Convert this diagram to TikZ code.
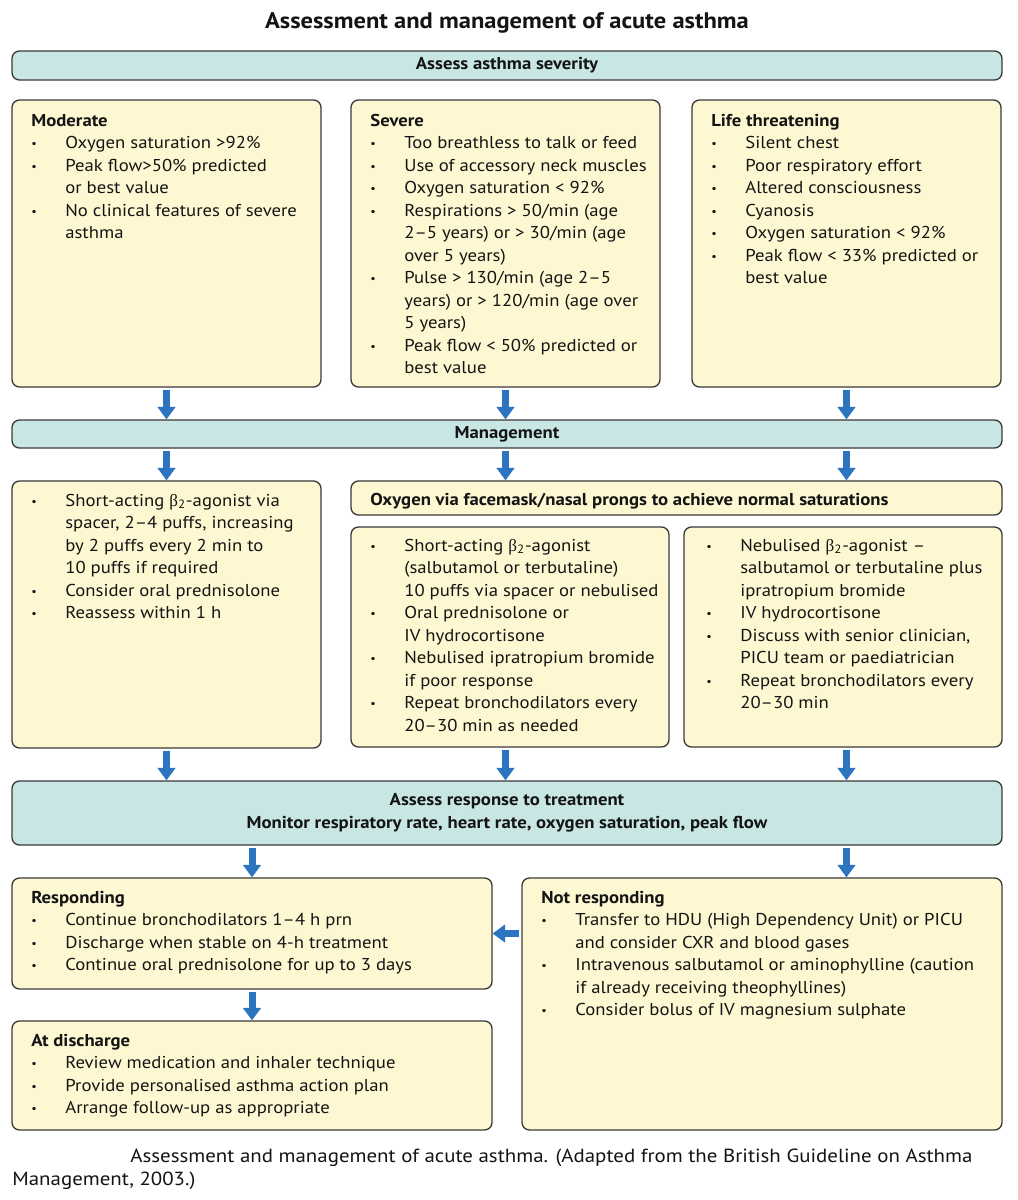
\documentclass[tikz,border=0pt]{standalone}
\usepackage{fontspec}
\setmainfont[FakeStretch=1.09]{PT Sans}
\newfontfamily\grk{Liberation Serif}
\newfontfamily\capfont[FakeStretch=1.1]{PT Sans}
\usetikzlibrary{arrows.meta,fit}
\definecolor{ybox}{HTML}{FEF8D2}
\definecolor{tbar}{HTML}{C8E7E4}
\definecolor{bord}{HTML}{3A3A3A}
\definecolor{arr}{HTML}{2C73C0}
\newcommand\bl{\makebox[20.4pt][l]{\raisebox{0.5pt}{\scalebox{0.65}{\textbullet}}}}
\newcommand\cn{\hspace*{20.4pt}}
\newcommand\btwo{{\grk β}\textsubscript{2}}
\begin{document}
\begin{tikzpicture}[x=0.6pt,y=-0.6pt,
  every node/.style={font=\fontsize{10.3}{13.5}\selectfont, text=black!92},
  ybx/.style={draw=bord, fill=ybox, line width=0.8pt, rounded corners=4.5pt, inner sep=0pt},
  tbr/.style={draw=bord, fill=tbar, line width=0.8pt, rounded corners=4.5pt, inner sep=0pt},
  txt/.style={anchor=north west, inner sep=0pt, align=left},
  ctr/.style={inner sep=0pt, align=center, font=\fontsize{10.3}{13.5}\selectfont\bfseries},
  barrow/.style={draw=arr, line width=4.2pt, shorten <=1.2pt, -{Triangle[length=7.5pt,width=10.5pt]}},
]
\useasboundingbox[fill=white] (0,0) rectangle (1018,1200);

% title
\node[font=\fontsize{13.5}{16}\selectfont\bfseries] (title) at (507,23) {Assessment and management of acute asthma};

% bars
\node[tbr, fit={(12,51)(1002,80)}] (sev0) {};
\node[ctr] (sev0t) at (sev0.center) {Assess asthma severity};
\node[tbr, fit={(12,420)(1002,448)}] (mgmt) {};
\node[ctr] (mgmtt) at (mgmt.center) {Management};
\node[tbr, fit={(12,781)(1002,845)}] (resp) {};
\node[ctr] (respt) at (resp.center) {Assess response to treatment\\Monitor respiratory rate, heart rate, oxygen saturation, peak flow};

% severity boxes
\node[ybx, fit={(12,100)(321,387)}] (mod) {};
\node[ybx, fit={(351,100)(660,387)}] (sev) {};
\node[ybx, fit={(692,100)(1001,387)}] (life) {};

\node[txt] (modt) at (31,110) {\strut\textbf{Moderate}\\
\bl Oxygen saturation >92\%\\
\bl Peak flow>50\% predicted\\
\cn or best value\\
\bl No clinical features of severe\\
\cn asthma};

\node[txt] (sevt) at (370,110) {\strut\textbf{Severe}\\
\bl Too breathless to talk or feed\\
\bl Use of accessory neck muscles\\
\bl Oxygen saturation < 92\%\\
\bl Respirations > 50/min (age\\
\cn 2–5 years) or > 30/min (age\\
\cn over 5 years)\\
\bl Pulse > 130/min (age 2–5\\
\cn years) or > 120/min (age over\\
\cn 5 years)\\
\bl Peak flow < 50\% predicted or\\
\cn best value};

\node[txt] (lifet) at (711,110) {\strut\textbf{Life threatening}\\
\bl Silent chest\\
\bl Poor respiratory effort\\
\bl Altered consciousness\\
\bl Cyanosis\\
\bl Oxygen saturation < 92\%\\
\bl Peak flow < 33\% predicted or\\
\cn best value};

% management boxes
\node[ybx, fit={(12,481)(321,748)}] (lman) {};
\node[ybx, fit={(351,481)(1002,515)}] (oxy) {};
\node[ybx, fit={(351,527)(669,747)}] (mman) {};
\node[ybx, fit={(684,527)(1002,747)}] (rman) {};

\node[txt] (lmant) at (31,490) {\strut\bl Short-acting \btwo-agonist via\\
\cn spacer, 2–4 puffs, increasing\\
\cn by 2 puffs every 2 min to\\
\cn 10 puffs if required\\
\bl Consider oral prednisolone\\
\bl Reassess within 1 h};

\node[txt, font=\fontsize{10.3}{13.5}\selectfont\bfseries] (oxyt) at (370,489) {\strut Oxygen via facemask/nasal prongs to achieve normal saturations};

\node[txt] (mmant) at (370,535) {\strut\bl Short-acting \btwo-agonist\\
\cn (salbutamol or terbutaline)\\
\cn 10 puffs via spacer or nebulised\\
\bl Oral prednisolone or\\
\cn IV hydrocortisone\\
\bl Nebulised ipratropium bromide\\
\cn if poor response\\
\bl Repeat bronchodilators every\\
\cn 20–30 min as needed};

\node[txt] (rmant) at (706,535) {\strut\bl Nebulised \btwo-agonist –\\
\cn salbutamol or terbutaline plus\\
\cn ipratropium bromide\\
\bl IV hydrocortisone\\
\bl Discuss with senior clinician,\\
\cn PICU team or paediatrician\\
\bl Repeat bronchodilators every\\
\cn 20–30 min};

% response boxes
\node[ybx, fit={(12,878)(492,989)}] (rsp) {};
\node[ybx, fit={(522,878)(1002,1130)}] (nrsp) {};
\node[ybx, fit={(12,1021)(492,1130)}] (dis) {};

\node[txt] (rspt) at (31,887) {\strut\textbf{Responding}\\
\bl Continue bronchodilators 1–4 h prn\\
\bl Discharge when stable on 4-h treatment\\
\bl Continue oral prednisolone for up to 3 days};

\node[txt] (nrspt) at (541,887) {\strut\textbf{Not responding}\\
\bl Transfer to HDU (High Dependency Unit) or PICU\\
\cn and consider CXR and blood gases\\
\bl Intravenous salbutamol or aminophylline (caution\\
\cn if already receiving theophyllines)\\
\bl Consider bolus of IV magnesium sulphate};

\node[txt] (dist) at (31,1030) {\strut\textbf{At discharge}\\
\bl Review medication and inhaler technique\\
\bl Provide personalised asthma action plan\\
\bl Arrange follow-up as appropriate};

% caption
\node[txt, font=\capfont\fontsize{11.4}{13.8}\selectfont] (cap) at (12,1146) {\strut\hspace*{70.8pt}Assessment and management of acute asthma. (Adapted from the British Guideline on Asthma\\Management, 2003.)};

% arrows
\draw[barrow] (mod.south) -- (mod.south |- mgmt.north);
\draw[barrow] (sev.south) -- (sev.south |- mgmt.north);
\draw[barrow] (life.south) -- (life.south |- mgmt.north);
\draw[barrow] (mgmt.south -| lman.north) -- (lman.north);
\draw[barrow] (mgmt.south -| sev.south) -- (oxy.north -| sev.south);
\draw[barrow] (mgmt.south -| life.south) -- (oxy.north -| life.south);
\draw[barrow] (lman.south) -- (lman.south |- resp.north);
\draw[barrow] (mman.south -| sev.south) -- (resp.north -| sev.south);
\draw[barrow] (rman.south -| life.south) -- (resp.north -| life.south);
\draw[barrow] (resp.south -| rsp.north) -- (rsp.north);
\draw[barrow] (resp.south -| life.south) -- (nrsp.north -| life.south);
\draw[barrow] (nrsp.west |- rsp.east) -- (rsp.east);
\draw[barrow] (rsp.south) -- (dis.north);
\end{tikzpicture}
\end{document}
